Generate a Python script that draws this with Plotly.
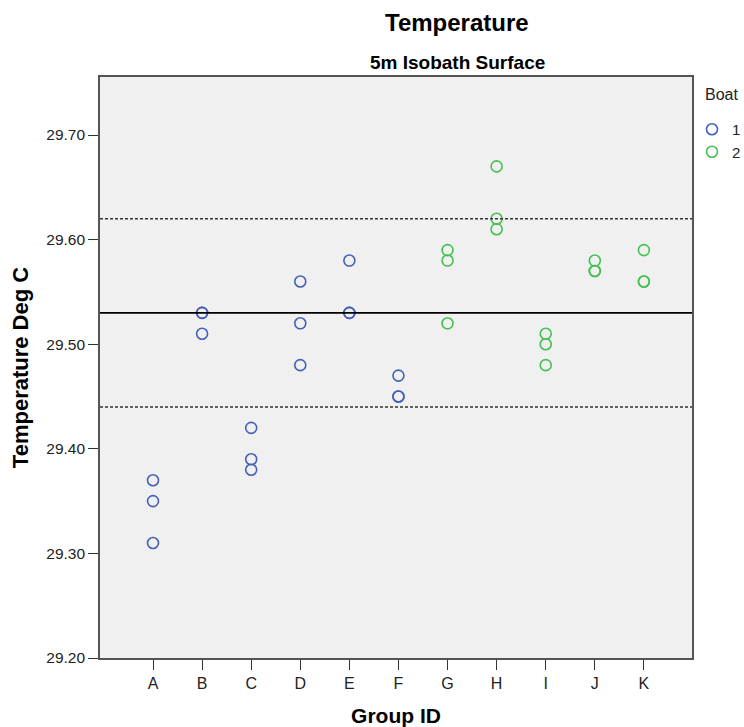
import plotly.graph_objects as go

groups = ["A", "B", "C", "D", "E", "F", "G", "H", "I", "J", "K"]
boat1_groups = ["A", "A", "A", "B", "B", "B", "C", "C", "C", "D", "D", "D", "E", "E", "E", "F", "F", "F"]
boat1_temps = [29.37, 29.35, 29.31, 29.53, 29.53, 29.51, 29.42, 29.39, 29.38, 29.56, 29.52, 29.48,
               29.58, 29.53, 29.53, 29.47, 29.45, 29.45]
boat2_groups = ["G", "G", "G", "H", "H", "H", "I", "I", "I", "J", "J", "J", "K", "K", "K"]
boat2_temps = [29.59, 29.58, 29.52, 29.67, 29.62, 29.61, 29.51, 29.50, 29.48, 29.58, 29.57, 29.57,
               29.59, 29.56, 29.56]
mean_line = 29.53
upper_line = 29.62
lower_line = 29.44
y_ticks = [29.20, 29.30, 29.40, 29.50, 29.60, 29.70]

FONT = "Liberation Sans, Arial, sans-serif"
idx = {g: i for i, g in enumerate(groups)}

W, H = 744, 727
ML, MR, MT, MB = 100, 52, 77, 69
PW, PH = W - ML - MR, H - MT - MB


def px_x(p):
    return (p - ML) / PW


def px_y(p):
    return 1 - (p - MT) / PH


fig = go.Figure()
fig.add_trace(go.Scatter(
    x=[idx[g] for g in boat1_groups], y=boat1_temps, mode="markers", name="1",
    marker=dict(symbol="circle-open", size=11, color="#4560b8", line=dict(width=1.6)),
))
fig.add_trace(go.Scatter(
    x=[idx[g] for g in boat2_groups], y=boat2_temps, mode="markers", name="2",
    marker=dict(symbol="circle-open", size=11, color="#45c152", line=dict(width=1.6)),
))

fig.add_hline(y=mean_line, line=dict(color="black", width=1.6))
fig.add_hline(y=upper_line, line=dict(color="#333333", width=1.4, dash="3px,2px"))
fig.add_hline(y=lower_line, line=dict(color="#333333", width=1.4, dash="3px,2px"))

fig.update_layout(
    width=W, height=H,
    margin=dict(l=ML, r=MR, t=MT, b=MB, autoexpand=False),
    paper_bgcolor="white", plot_bgcolor="#f0f0f0",
    font=dict(family=FONT, color="black", size=12),
    showlegend=True,
    legend=dict(
        x=px_x(692), xanchor="left", y=px_y(113), yanchor="top",
        font=dict(size=15, color="#222"), itemwidth=30, tracegroupgap=0,
        bgcolor="rgba(0,0,0,0)",
    ),
    annotations=[
        dict(text="<b>Temperature</b>", x=px_x(457), xref="paper", y=px_y(22), yref="paper",
             yanchor="middle", showarrow=False, font=dict(size=24)),
        dict(text="<b>5m Isobath Surface</b>", x=px_x(457), xref="paper", y=px_y(63), yref="paper",
             yanchor="middle", showarrow=False, font=dict(size=19)),
        dict(text="Boat", x=px_x(703), xref="paper", xanchor="left", y=px_y(95), yref="paper",
             yanchor="middle", showarrow=False, font=dict(size=16, color="#222")),
    ],
)

fig.update_xaxes(
    range=[-1.08, 10.98], tickmode="array", tickvals=list(range(len(groups))), ticktext=groups,
    ticks="outside", ticklen=10, tickcolor="#333", tickwidth=1.3, showgrid=False, zeroline=False,
    showline=True, linecolor="#555", linewidth=1.6, mirror=True,
    tickfont=dict(size=16, color="#222"),
    title=dict(text="<b>Group ID</b>", font=dict(size=21), standoff=18),
)
fig.update_yaxes(
    range=[29.2, 29.7555], tickmode="array", tickvals=y_ticks,
    ticktext=[f"{v:.2f}" for v in y_ticks],
    ticks="outside", ticklen=10, tickcolor="#333", tickwidth=1.3, showgrid=False, zeroline=False,
    showline=True, linecolor="#555", linewidth=1.6, mirror=True,
    tickfont=dict(size=15.5, color="#222"),
    title=dict(text="<b>Temperature Deg C</b>", font=dict(size=22), standoff=12),
)

fig.write_html("out.html")
